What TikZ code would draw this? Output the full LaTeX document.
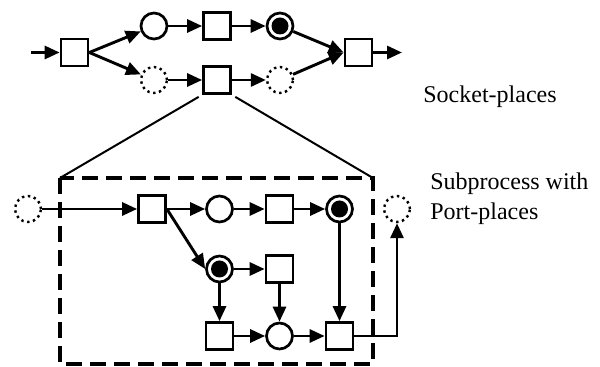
\documentclass[tikz,border=0pt]{standalone}
\usepackage{fontspec}
\setmainfont{Liberation Serif}
\usetikzlibrary{arrows.meta}

\begin{document}
\begin{tikzpicture}[x=0.5pt,y=-0.5pt,
  trans/.style={draw,line width=1.35pt,minimum size=13.5pt,inner sep=0pt},
  place/.style={circle,draw,line width=1.35pt,minimum size=13pt,inner sep=0pt},
  port/.style={place,line width=1.2pt,dash pattern=on 1.2pt off 1.8pt},
  marked/.style={place,path picture={\fill (path picture bounding box.center) circle (4.25pt);}},
  arc/.style={-{Triangle[length=7.5pt,width=6.5pt]},line width=1.45pt},
  label/.style={anchor=base west,inner sep=0pt,align=left,font=\rmfamily\fontsize{12pt}{15pt}\selectfont}]
  \useasboundingbox (0,0) rectangle (600,367);

  \coordinate (in0) at (31,52.5);
  \coordinate (out0) at (402,52.5);
  \node[trans] (t1) at (74.5,52.5) {};
  \node[place] (p1) at (154,26) {};
  \node[trans] (t2) at (217,26) {};
  \node[marked] (p2) at (280,26) {};
  \node[port] (p3) at (154,80) {};
  \node[trans] (t3) at (217,80) {};
  \node[port] (p4) at (280,80) {};
  \node[trans] (t5) at (358.5,52.5) {};

  \draw[arc] (in0)--(t1);
  \draw[arc] (t1.east)--(p1);
  \draw[arc] (t1.east)--(p3);
  \draw[arc] (p1)--(t2);
  \draw[arc] (t2)--(p2);
  \draw[arc] (p3)--(t3);
  \draw[arc] (t3)--(p4);
  \draw[arc] (p2)--(t5.west);
  \draw[arc] (p4)--(t5.west);
  \draw[arc] (t5)--(out0);

  \coordinate (boxnw) at (60,178);
  \coordinate (boxne) at (373,178);
  \coordinate (boxse) at (373,364);
  \draw[line width=1pt,shorten <=2pt] (t3.south west)--(boxnw);
  \draw[line width=1pt,shorten <=2pt] (t3.south east)--(boxne);
  \draw[line width=1.6pt,dash pattern=on 8pt off 4pt] (boxnw) rectangle (boxse);

  \node[port] (in1) at (28,209) {};
  \node[trans] (ta) at (152,209) {};
  \node[place] (pa) at (219.5,209) {};
  \node[trans] (tb) at (279.5,209) {};
  \node[marked] (pb) at (339.5,209) {};
  \node[marked] (pc) at (219.5,269) {};
  \node[trans] (tc) at (279.5,269) {};
  \node[trans] (td) at (219.5,336) {};
  \node[place] (pd) at (279.5,336) {};
  \node[trans] (te) at (339.5,336) {};
  \node[port] (out1) at (397,209) {};

  \draw[arc] (in1)--(ta);
  \draw[arc] (ta)--(pa);
  \draw[arc] (pa)--(tb);
  \draw[arc] (tb)--(pb);
  \draw[arc] (ta.east)--(pc.west);
  \draw[arc] (pc)--(tc);
  \draw[arc] (pc)--(td);
  \draw[arc] (tc)--(pd);
  \draw[arc] (td)--(pd);
  \draw[arc] (pd)--(te);
  \draw[arc] (pb)--(te);
  \draw[arc] (te.east)-|(out1.south);

  \node[label] (socket) at (423,103) {Socket-places};
  \node[label] (subproc) at (430,220) {Subprocess with\\Port-places};
\end{tikzpicture}
\end{document}
